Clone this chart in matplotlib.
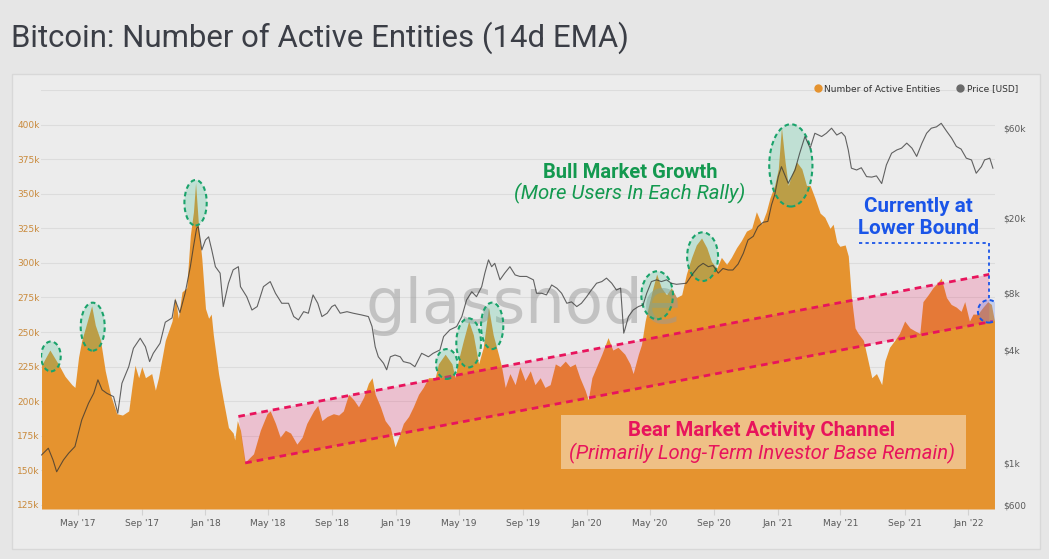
import numpy as np
import pandas as pd
import matplotlib
matplotlib.use('Agg')
import matplotlib.pyplot as plt
import matplotlib.dates as mdates
from matplotlib.patches import Ellipse, Polygon, Rectangle
from matplotlib.lines import Line2D

# ---- data ----
# active entities (thousands)
ent_dates = ['2017-02-21', '2017-03-09', '2017-03-25', '2017-04-07', '2017-04-20', '2017-04-26', '2017-05-03',
             '2017-05-09', '2017-05-16', '2017-05-28', '2017-06-04', '2017-06-14', '2017-06-23', '2017-07-03',
             '2017-07-15', '2017-07-26', '2017-08-07', '2017-08-13', '2017-08-19', '2017-08-26', '2017-09-01',
             '2017-09-08', '2017-09-20', '2017-09-27', '2017-10-03', '2017-10-16', '2017-10-29', '2017-11-04',
             '2017-11-10', '2017-11-17', '2017-11-26', '2017-12-03', '2017-12-09', '2017-12-13', '2017-12-19',
             '2017-12-25', '2018-01-01', '2018-01-07', '2018-01-12', '2018-01-16', '2018-01-26', '2018-02-04',
             '2018-02-14', '2018-02-23', '2018-02-26', '2018-03-03', '2018-03-09', '2018-03-18', '2018-04-03',
             '2018-04-16', '2018-04-29', '2018-05-05', '2018-05-15', '2018-05-24', '2018-06-03', '2018-06-13',
             '2018-06-25', '2018-07-05', '2018-07-14', '2018-07-27', '2018-08-04', '2018-08-12', '2018-08-22',
             '2018-09-03', '2018-09-13', '2018-09-22', '2018-10-02', '2018-10-12', '2018-10-21', '2018-10-31',
             '2018-11-09', '2018-11-16', '2018-11-22', '2018-12-02', '2018-12-11', '2018-12-21', '2018-12-30',
             '2019-01-06', '2019-01-15', '2019-01-25', '2019-02-03', '2019-02-13', '2019-02-22', '2019-03-04',
             '2019-03-17', '2019-03-23', '2019-04-05', '2019-04-18', '2019-04-24', '2019-04-30', '2019-05-10',
             '2019-05-20', '2019-05-29', '2019-06-08', '2019-06-17', '2019-06-27', '2019-07-06', '2019-07-16',
             '2019-07-22', '2019-07-29', '2019-08-07', '2019-08-17', '2019-08-26', '2019-09-05', '2019-09-15',
             '2019-09-24', '2019-10-04', '2019-10-13', '2019-10-23', '2019-11-02', '2019-11-11', '2019-11-21',
             '2019-11-30', '2019-12-10', '2019-12-19', '2019-12-29', '2020-01-04', '2020-01-11', '2020-01-20',
             '2020-01-30', '2020-02-11', '2020-02-20', '2020-03-01', '2020-03-14', '2020-03-24', '2020-03-30',
             '2020-04-09', '2020-04-15', '2020-04-22', '2020-04-28', '2020-05-07', '2020-05-14', '2020-05-23',
             '2020-06-02', '2020-06-11', '2020-06-21', '2020-07-01', '2020-07-10', '2020-07-20', '2020-07-29',
             '2020-08-08', '2020-08-18', '2020-08-27', '2020-09-06', '2020-09-15', '2020-09-25', '2020-10-04',
             '2020-10-14', '2020-10-23', '2020-11-02', '2020-11-12', '2020-11-21', '2020-12-01', '2020-12-10',
             '2020-12-17', '2020-12-26', '2021-01-02', '2021-01-08', '2021-01-15', '2021-01-21', '2021-01-27',
             '2021-02-06', '2021-02-16', '2021-02-25', '2021-03-04', '2021-03-13', '2021-03-23', '2021-04-01',
             '2021-04-11', '2021-04-17', '2021-04-24', '2021-04-30', '2021-05-10', '2021-05-16', '2021-05-22',
             '2021-05-29', '2021-06-04', '2021-06-14', '2021-06-20', '2021-06-30', '2021-07-09', '2021-07-19',
             '2021-07-25', '2021-08-03', '2021-08-13', '2021-08-22', '2021-09-01', '2021-09-11', '2021-09-20',
             '2021-09-30', '2021-10-06', '2021-10-16', '2021-10-25', '2021-11-04', '2021-11-10', '2021-11-20',
             '2021-11-29', '2021-12-09', '2021-12-18', '2021-12-25', '2022-01-03', '2022-01-10', '2022-01-19',
             '2022-01-29', '2022-02-07', '2022-02-14', '2022-02-20']
ent_vals = [226, 237, 227, 218, 212, 210, 232, 244, 253, 269, 255, 244, 222, 205,
            191, 190, 193, 210, 226, 217, 225, 217, 220, 208, 217, 244, 258, 275,
            260, 279, 282, 320, 337, 358, 325, 303, 267, 260, 263, 248, 220, 201,
            181, 177, 172, 186, 179, 156, 162, 179, 191, 193, 184, 174, 179, 177,
            169, 174, 184, 193, 197, 186, 189, 191, 190, 193, 205, 201, 196, 203,
            213, 217, 205, 196, 186, 181, 167, 174, 184, 189, 196, 205, 210, 217,
            217, 227, 234, 227, 217, 229, 244, 258, 248, 227, 239, 268, 248, 234,
            225, 210, 220, 212, 225, 215, 222, 212, 217, 210, 212, 227, 225, 229,
            225, 227, 217, 208, 201, 217, 225, 234, 246, 237, 239, 234, 227, 220,
            234, 241, 258, 268, 282, 292, 282, 277, 282, 275, 277, 292, 304, 313,
            318, 311, 301, 296, 304, 299, 304, 311, 316, 323, 325, 337, 328, 337,
            347, 356, 368, 398, 373, 356, 363, 373, 368, 356, 356, 347, 336, 333,
            325, 328, 315, 312, 313, 305, 275, 253, 249, 244, 234, 217, 220, 212,
            229, 239, 244, 249, 258, 253, 251, 249, 272, 277, 282, 286, 289, 275,
            270, 268, 265, 272, 258, 263, 263, 268, 272, 270, 258]

# BTC price (USD)
price_dates = ['2017-02-21', '2017-03-06', '2017-03-15', '2017-03-22', '2017-04-04', '2017-04-14', '2017-04-26',
               '2017-05-09', '2017-05-22', '2017-06-01', '2017-06-09', '2017-06-17', '2017-06-26', '2017-07-09',
               '2017-07-17', '2017-07-25', '2017-08-07', '2017-08-16', '2017-08-29', '2017-09-08', '2017-09-16',
               '2017-09-23', '2017-10-06', '2017-10-16', '2017-10-29', '2017-11-04', '2017-11-13', '2017-11-23',
               '2017-12-03', '2017-12-09', '2017-12-15', '2017-12-18', '2017-12-25', '2018-01-01', '2018-01-07',
               '2018-01-13', '2018-01-20', '2018-01-29', '2018-02-04', '2018-02-14', '2018-02-23', '2018-03-05',
               '2018-03-09', '2018-03-21', '2018-03-31', '2018-04-10', '2018-04-22', '2018-05-05', '2018-05-15',
               '2018-05-27', '2018-06-09', '2018-06-19', '2018-06-28', '2018-07-08', '2018-07-17', '2018-07-26',
               '2018-08-04', '2018-08-12', '2018-08-22', '2018-08-31', '2018-09-06', '2018-09-16', '2018-09-29',
               '2018-10-11', '2018-10-27', '2018-11-09', '2018-11-16', '2018-11-22', '2018-11-28', '2018-12-08',
               '2018-12-14', '2018-12-21', '2018-12-30', '2019-01-09', '2019-01-15', '2019-01-28', '2019-02-06',
               '2019-02-19', '2019-03-04', '2019-03-13', '2019-03-26', '2019-04-02', '2019-04-14', '2019-04-27',
               '2019-05-07', '2019-05-16', '2019-05-26', '2019-06-04', '2019-06-14', '2019-06-20', '2019-06-27',
               '2019-07-03', '2019-07-09', '2019-07-19', '2019-07-28', '2019-08-07', '2019-08-17', '2019-08-26',
               '2019-09-08', '2019-09-21', '2019-09-27', '2019-10-07', '2019-10-16', '2019-10-26', '2019-11-05',
               '2019-11-14', '2019-11-24', '2019-12-03', '2019-12-13', '2019-12-22', '2020-01-01', '2020-01-10',
               '2020-01-20', '2020-01-30', '2020-02-08', '2020-02-18', '2020-02-27', '2020-03-06', '2020-03-12',
               '2020-03-14', '2020-03-21', '2020-03-30', '2020-04-09', '2020-04-18', '2020-04-25', '2020-05-04',
               '2020-05-14', '2020-05-23', '2020-06-02', '2020-06-11', '2020-06-21', '2020-07-10', '2020-07-23',
               '2020-08-02', '2020-08-11', '2020-08-21', '2020-08-30', '2020-09-09', '2020-09-18', '2020-09-28',
               '2020-10-07', '2020-10-17', '2020-10-27', '2020-11-05', '2020-11-15', '2020-11-24', '2020-12-04',
               '2020-12-13', '2020-12-20', '2020-12-26', '2021-01-02', '2021-01-08', '2021-01-21', '2021-02-03',
               '2021-02-12', '2021-02-22', '2021-03-04', '2021-03-13', '2021-03-26', '2021-04-04', '2021-04-14',
               '2021-04-24', '2021-05-03', '2021-05-10', '2021-05-16', '2021-05-22', '2021-06-01', '2021-06-10',
               '2021-06-20', '2021-06-30', '2021-07-09', '2021-07-19', '2021-07-28', '2021-08-07', '2021-08-17',
               '2021-08-26', '2021-09-05', '2021-09-15', '2021-09-24', '2021-10-04', '2021-10-13', '2021-10-22',
               '2021-11-01', '2021-11-10', '2021-11-20', '2021-11-30', '2021-12-09', '2021-12-18', '2021-12-28',
               '2022-01-07', '2022-01-16', '2022-01-26', '2022-02-01', '2022-02-11', '2022-02-17']
price_vals = [1105, 1200, 1040, 900, 1040, 1130, 1225,
              1695, 2080, 2350, 2770, 2450, 2350, 2255,
              1840, 2655, 3250, 4070, 4605, 4150, 3460,
              3830, 4330, 5600, 5900, 7350, 6300, 7980,
              11040, 14100, 17650, 18000, 13550, 15300, 15900,
              13550, 11040, 10200, 6780, 9020, 10620, 11040,
              8650, 7650, 6500, 6780, 8650, 9200, 7980,
              7060, 7060, 6000, 5760, 6370, 6250, 7820,
              7060, 6000, 6250, 6780, 6920, 6250, 6370,
              6250, 6120, 6000, 5310, 4150, 3670, 3390,
              3130, 3670, 3750, 3670, 3460, 3390, 3250,
              3830, 3670, 3830, 3990, 4700, 5100, 5310,
              6000, 7350, 8130, 7650, 8650, 10200, 12000,
              11040, 11500, 9400, 10200, 11040, 9980, 9800,
              9800, 9400, 7980, 7980, 7820, 8830, 8480,
              7980, 7060, 7180, 6780, 7060, 7650, 8300,
              9020, 9200, 9600, 9020, 8300, 8500, 4900,
              5100, 6000, 6500, 6780, 6920, 7980, 9200,
              9400, 9200, 9400, 9020, 8900, 9020, 10200,
              11040, 11500, 11040, 11200, 10200, 10800, 10600,
              10600, 11400, 13000, 15300, 16000, 18000, 19000,
              19200, 23500, 26500, 33200, 37500, 30600, 36000,
              44200, 54200, 47000, 56400, 54200, 56400, 60000,
              55200, 57000, 54200, 46000, 36800, 36000, 37000,
              33200, 33000, 33500, 30500, 38300, 44200, 46000,
              47000, 50000, 47000, 42500, 49900, 56400, 60000,
              61000, 63700, 58000, 53100, 48000, 46500, 41600,
              40700, 34600, 37500, 40700, 41600, 36800]

# rally peaks circled in green: centre date, centre value (k), width (days), height (k)
peak_dates = ['2017-03-11', '2017-05-30', '2017-12-13', '2019-04-08', '2019-05-20',
              '2019-07-04', '2020-05-15', '2020-08-10', '2021-01-26']
peak_vals = [232.4, 253.9, 343.5, 226.9, 242.2, 254.5, 276.6, 304.5, 370.5]
peak_w = [37.5, 46, 42.7, 40.8, 47.3, 42.7, 60.6, 59.3, 82.8]
peak_h = [21.6, 34.7, 32.9, 21.6, 35.5, 33.6, 34.7, 35.2, 59.5]

# bear market channel
upper_dates = ['2018-03-05', '2022-02-10']
upper_vals = [189.0, 291.7]
lower_dates = ['2018-03-18', '2022-02-17']
lower_vals = [155.4, 257.8]

left_ticks = [125, 150, 175, 200, 225, 250, 275, 300, 325, 350, 375, 400, 425]
right_ticks = [600, 1000, 4000, 8000, 20000, 60000]
right_labels = ['$600', '$1k', '$4k', '$8k', '$20k', '$60k']

ORANGE = '#e5932f'
CRIMSON = '#e8145c'
GREEN = '#13994f'
BLUE = '#1a55e8'
BG = '#e6e6e6'
PANEL = '#ececec'

W, H = 1049, 559


def fx(x):
    return x / W


def fy(y):
    return 1 - y / H


ed = pd.to_datetime(ent_dates)
pdts = pd.to_datetime(price_dates)

fig = plt.figure(figsize=(W / 100, H / 100), dpi=100, facecolor=BG)
fig.add_artist(Rectangle((fx(12), fy(549)), fx(1040) - fx(12), fy(74) - fy(549),
                         transform=fig.transFigure, fc=PANEL, ec='#d8d8d8', lw=1, zorder=-5))
fig.text(fx(11), fy(38), 'Bitcoin: Number of Active Entities (14d EMA)', ha='left', va='center',
         fontsize=22.4, family='Roboto', color='#3b3e46')

ax = fig.add_axes([fx(41), fy(509), fx(995) - fx(41), fy(90) - fy(509)])
ax.set_facecolor(PANEL)
ax2 = ax.twinx()

ymin, ymax = 122.1, 423.5
ax.fill_between(ed, ent_vals, ymin, color=ORANGE, lw=0, zorder=2)

# channel
upn = mdates.date2num(pd.to_datetime(upper_dates))
lon = mdates.date2num(pd.to_datetime(lower_dates))
lo_right = np.interp(upn[1], lon, lower_vals)
ax.add_patch(Polygon([(upn[0], upper_vals[0]), (upn[1], upper_vals[1]), (upn[1], lo_right),
                      (lon[0], lower_vals[0])], closed=True, fc=CRIMSON, alpha=0.2, lw=0, zorder=3))
ax.plot(upn, upper_vals, color=CRIMSON, lw=2, ls=(0, (2.4, 1.8)), zorder=5)
ax.plot(lon, lower_vals, color=CRIMSON, lw=2, ls=(0, (2.4, 1.8)), zorder=5)

# green rally ellipses
for d, v, w, h in zip(pd.to_datetime(peak_dates), peak_vals, peak_w, peak_h):
    c = mdates.date2num(d)
    ax.add_patch(Ellipse((c, v), w, h, fc='#3fbf8f', alpha=0.25, lw=0, zorder=6))
    ax.add_patch(Ellipse((c, v), w, h, fc='none', ec='#1aa36b', lw=1.5, ls=(0, (2.2, 1.6)), zorder=6))

# blue "current" circle and bracket
bc = mdates.date2num(pd.Timestamp('2022-02-09'))
ax.add_patch(Ellipse((bc, 265), 41.5, 16.3, fc='#7090f0', alpha=0.3, lw=0, zorder=6))
ax.add_patch(Ellipse((bc, 265), 41.5, 16.3, fc='none', ec=BLUE, lw=1.4, ls=(0, (2.2, 1.6)), zorder=6))
bx0 = mdates.date2num(pd.Timestamp('2021-06-05'))
ax.plot([bx0, upn[1], upn[1]], [314.4, 314.4, 273.2], color=BLUE, lw=1.3, ls=(0, (1.8, 1.8)), zorder=6)

# watermark
ax.text(fx(524), fy(323), 'glassnode', transform=fig.transFigure, ha='center', va='baseline',
        fontsize=45, family='DejaVu Sans', color='#999999', alpha=0.5, zorder=4)

# annotation texts
ax.add_patch(Rectangle((fx(561), fy(469)), fx(966) - fx(561), fy(415) - fy(469), transform=fig.transFigure,
                       fc='white', alpha=0.42, lw=0, zorder=7))
ax.text(fx(630), fy(172), 'Bull Market Growth', transform=fig.transFigure, ha='center', va='center',
        fontsize=14.5, family='Roboto', weight='bold', color=GREEN, zorder=8)
ax.text(fx(630), fy(193), '(More Users In Each Rally)', transform=fig.transFigure, ha='center', va='center',
        fontsize=14.7, family='Roboto', style='italic', color=GREEN, zorder=8)
ax.text(fx(918), fy(206), 'Currently at', transform=fig.transFigure, ha='center', va='center',
        fontsize=14.9, family='Roboto', weight='bold', color=BLUE, zorder=8)
ax.text(fx(918), fy(228), 'Lower Bound', transform=fig.transFigure, ha='center', va='center',
        fontsize=14.9, family='Roboto', weight='bold', color=BLUE, zorder=8)
ax.text(fx(762), fy(431), 'Bear Market Activity Channel', transform=fig.transFigure, ha='center', va='center',
        fontsize=14.7, family='Roboto', weight='bold', color=CRIMSON, zorder=8)
ax.text(fx(762), fy(453), '(Primarily Long-Term Investor Base Remain)', transform=fig.transFigure,
        ha='center', va='center', fontsize=14.6, family='Roboto', style='italic', color=CRIMSON, zorder=8)

# price line
ax2.plot(pdts, price_vals, color='#333333', lw=0.8, alpha=0.75)
ax2.set_yscale('log')
ax2.set_ylim(571, 95700)
ax2.set_yticks(right_ticks)
ax2.set_yticklabels(right_labels)
ax2.minorticks_off()

ax.set_ylim(ymin, ymax)
ax.set_xlim(pd.Timestamp('2017-02-20'), pd.Timestamp('2022-02-21'))
ax.set_yticks(left_ticks)
ax.set_yticklabels([f'{t}k' if t < 425 else '' for t in left_ticks])
ax.grid(axis='y', color='#dcdcdc', lw=0.8)
ax.set_axisbelow(True)

xt = pd.date_range('2017-05-01', '2022-01-01', freq='4MS')
ax.set_xticks(xt)
ax.xaxis.set_major_formatter(mdates.DateFormatter("%b '%y"))

for a in (ax, ax2):
    for s in a.spines.values():
        s.set_visible(False)
ax.tick_params(axis='y', length=0, pad=1, labelsize=6.5, labelcolor='#c98a3c')
ax.tick_params(axis='x', length=4, color='#d2d2d2', pad=3, labelsize=6.5, labelcolor='#5a5a5a')
ax2.tick_params(axis='y', length=0, pad=6, labelsize=6.5, labelcolor='#5a5a5a')

handles = [Line2D([], [], marker='o', ls='', color=ORANGE, markersize=5),
           Line2D([], [], marker='o', ls='', color='#6a6a6a', markersize=5)]
fig.legend(handles, ['Number of Active Entities', 'Price [USD]'], loc='center right',
           bbox_to_anchor=(fx(1026), fy(89)), ncol=2, frameon=False, fontsize=6.5,
           handlelength=0.8, handletextpad=0.3, columnspacing=1.8, labelcolor='#333333')

fig.savefig('out.png', dpi=100, facecolor=BG)
